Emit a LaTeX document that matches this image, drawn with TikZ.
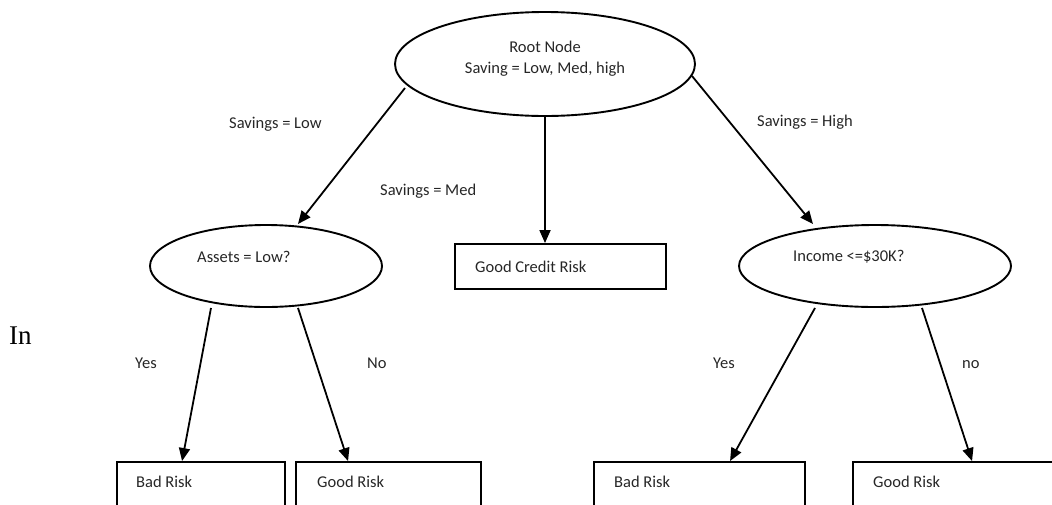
\documentclass[tikz,border=0pt]{standalone}
\usepackage{fontspec}
\setmainfont{Carlito}
\newfontfamily\timesf{Liberation Serif}
\usetikzlibrary{arrows.meta,shapes.geometric}
\begin{document}
\begin{tikzpicture}[x=1pt,y=-1pt,
  shp/.style={draw, line width=1.9pt},
  ell/.style={shp, ellipse, inner sep=0pt},
  boxn/.style={shp, rectangle, inner sep=0pt},
  arr/.style={line width=1.8pt, -{Triangle[length=13pt,width=11pt]}},
  txt/.style={anchor=base west, inner sep=0pt, font=\fontsize{16.5}{20}\selectfont, text=black!85},
  txtc/.style={txt, anchor=base}]
\useasboundingbox (0,0) rectangle (1052,504);
\clip (0,0) rectangle (1052,504);
% shapes
\node[ell, minimum width=300pt, minimum height=104pt] (root) at (545,64) {};
\node[ell, minimum width=232pt, minimum height=82pt] (left) at (266,266) {};
\node[ell, minimum width=272pt, minimum height=82pt] (right) at (875,266) {};
\node[boxn, minimum width=211pt, minimum height=45pt] (mid) at (560.5,266.5) {};
\node[boxn, minimum width=168pt, minimum height=68pt] (b1) at (201,496) {};
\node[boxn, minimum width=185pt, minimum height=68pt] (b2) at (388.5,496) {};
\node[boxn, minimum width=211pt, minimum height=68pt] (b3) at (699.5,496) {};
\node[boxn, minimum width=211pt, minimum height=68pt] (b4) at (958.5,496) {};
% texts in shapes
\node[txtc] (rt1) at (545,52.5) {Root Node};
\node[txtc] (rt2) at (545,73.5) {Saving = Low, Med, high};
\node[txt] (lt) at (197,262.5) {Assets = Low?};
\node[txt] (mt) at (475,272) {Good Credit Risk};
\node[txt] (rtt) at (793,261.5) {Income <=\$30K?};
\node[txt] (b1t) at (136,487.5) {Bad Risk};
\node[txt] (b2t) at (317,487.5) {Good Risk};
\node[txt] (b3t) at (614,487.5) {Bad Risk};
\node[txt] (b4t) at (873,487.5) {Good Risk};
% edge labels
\node[txt] (l1) at (229,128.5) {Savings = Low};
\node[txt] (l2) at (380,195.5) {Savings = Med};
\node[txt] (l3) at (757,126.5) {Savings = High};
\node[txt] (l4) at (135,368.5) {Yes};
\node[txt] (l5) at (367,368.5) {No};
\node[txt] (l6) at (713,368.5) {Yes};
\node[txt] (l7) at (962,368.5) {no};
\node[anchor=base west, inner sep=0pt, font=\timesf\fontsize{27}{30}\selectfont] (intxt) at (9,344) {In};
% connectors
\draw[arr] ([shift={(-140,24)}]root.center) -- ([shift={(32,-42)}]left.center);
\draw[arr] (root.south) -- (root.south |- mid.north);
\draw[arr] ([shift={(147,12)}]root.center) -- ([shift={(-62,-42)}]right.center);
\draw[arr] ([xshift=-55pt]left.south) -- ([xshift=66pt]b1.north west);
\draw[arr] ([xshift=32pt]left.south) -- ([xshift=53pt]b2.north west);
\draw[arr] ([xshift=-60pt]right.south) -- ([xshift=137pt]b3.north west);
\draw[arr] ([xshift=47pt]right.south) -- ([xshift=120pt]b4.north west);
\end{tikzpicture}
\end{document}
